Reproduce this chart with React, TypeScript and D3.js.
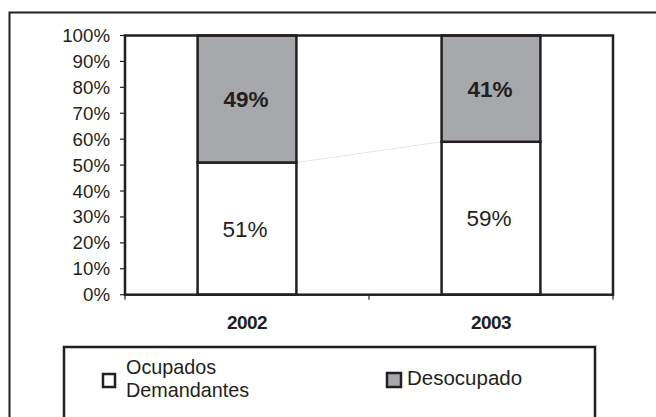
import React from "react";
import * as d3 from "d3";

const categories = ["2002", "2003"];
const ocupados = [51, 59];
const desocupados = [49, 41];
const yTicks = [0, 10, 20, 30, 40, 50, 60, 70, 80, 90, 100];
const seriesNames = ["Ocupados Demandantes", "Desocupado"];

const W = 656, H = 417;
const M = { left: 125, top: 35.5, right: 613, bottom: 294.7 };
const INK = "#231f20";
const GRAY = "#a7a8ab";
const FONT = "'Liberation Sans', Arial, sans-serif";

export default function App() {
  const x = d3.scaleBand().domain(categories).range([M.left, M.right]).paddingInner(0).paddingOuter(0);
  const y = d3.scaleLinear().domain([0, 100]).range([M.bottom, M.top]);
  const bw = x.bandwidth() * 0.405;
  const cx = (c: string) => (x(c) as number) + x.bandwidth() / 2;

  return (
    <svg width={W} height={H} style={{ position: "absolute", left: 0, top: 0, background: "#fff" }} fontFamily={FONT}>
      {/* outer frame */}
      <path d={`M9.5,${H} V12.5 H${W}`} fill="none" stroke={INK} strokeWidth={2} />
      {/* series connector line */}
      <line x1={cx(categories[0]) + bw / 2} y1={y(ocupados[0])} x2={cx(categories[1]) - bw / 2} y2={y(ocupados[1])} stroke="#e6e6e6" strokeWidth={1} />
      {/* bars */}
      {categories.map((c, i) => (
        <g key={c}>
          <rect x={cx(c) - bw / 2} y={y(ocupados[i])} width={bw} height={y(0) - y(ocupados[i])} fill="#fff" stroke={INK} strokeWidth={2.5} />
          <rect x={cx(c) - bw / 2} y={y(100)} width={bw} height={y(ocupados[i]) - y(100)} fill={GRAY} stroke={INK} strokeWidth={2.5} />
          <text x={cx(c) - 1} y={(y(100) + y(ocupados[i])) / 2 + 8} textAnchor="middle" fontSize={22.5} fontWeight="bold" fill={INK}>{desocupados[i]}%</text>
          <text x={cx(c) - 2} y={(y(0) + y(ocupados[i])) / 2 + 8} textAnchor="middle" fontSize={22.5} fill={INK}>{ocupados[i]}%</text>
        </g>
      ))}
      {/* plot border */}
      <rect x={M.left} y={M.top} width={M.right - M.left} height={M.bottom - M.top} fill="none" stroke={INK} strokeWidth={2.5} />
      {/* y ticks */}
      {yTicks.map((t) => (
        <g key={t}>
          <line x1={M.left - 5} x2={M.left} y1={y(t)} y2={y(t)} stroke={INK} strokeWidth={1.2} />
          <text x={110} y={y(t) + 6.5} textAnchor="end" fontSize={18.7} fill={INK}>{t}%</text>
        </g>
      ))}
      {/* x ticks */}
      {[M.left, (M.left + M.right) / 2, M.right].map((v, i) => (
        <line key={i} x1={v} x2={v} y1={M.bottom} y2={M.bottom + 5} stroke={INK} strokeWidth={1.2} />
      ))}
      {categories.map((c) => (
        <text key={c} x={cx(c)} y={329} textAnchor="middle" fontSize={19} fontWeight="bold" letterSpacing={-0.6} fill={INK}>{c}</text>
      ))}
      {/* legend */}
      <path d={`M64,${H} V347 H595 V${H}`} fill="none" stroke={INK} strokeWidth={2.5} />
      <rect x={103} y={374} width={12} height={13} fill="#fff" stroke={INK} strokeWidth={2.5} />
      <text fontSize={19.8} fill={INK}>
        <tspan x={126} y={373.5}>{seriesNames[0].split(" ")[0]}</tspan>
        <tspan x={126} y={396.5}>{seriesNames[0].split(" ")[1]}</tspan>
      </text>
      <rect x={387} y={373} width={14} height={14} fill={GRAY} stroke={INK} strokeWidth={2.5} />
      <text x={407} y={385} fontSize={20.5} fill={INK}>{seriesNames[1]}</text>
    </svg>
  );
}
